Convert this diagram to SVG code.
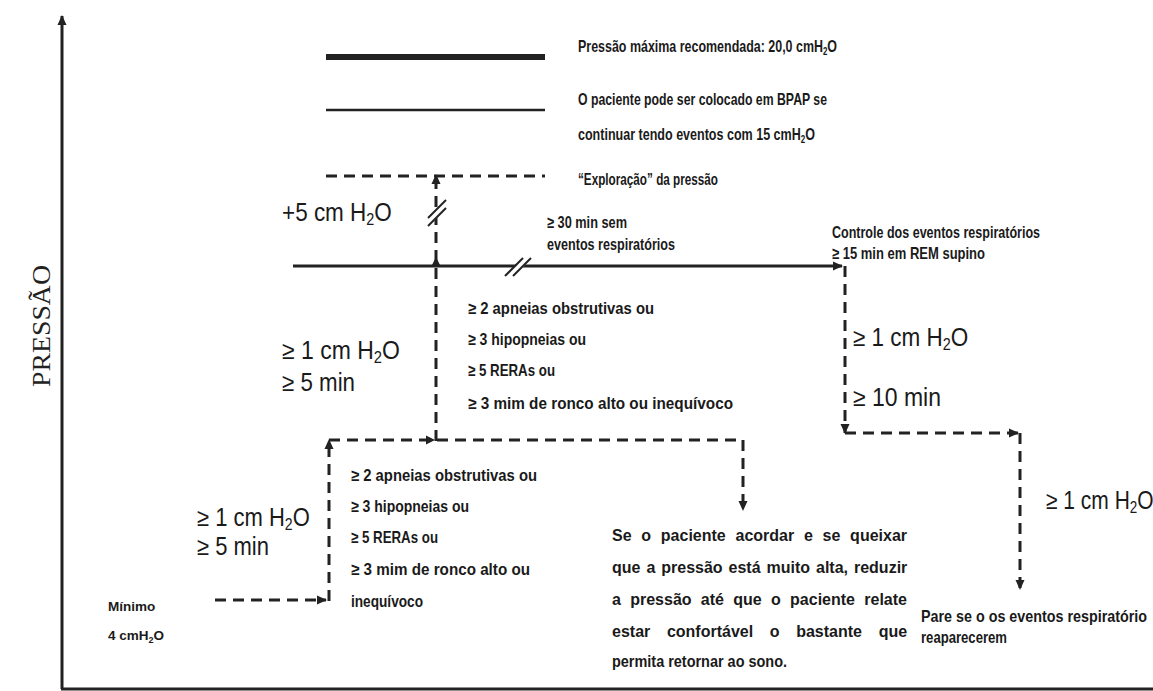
<svg xmlns="http://www.w3.org/2000/svg" width="1153" height="691" viewBox="0 0 1153 691">
<style>
.b{font-family:"Liberation Sans",Arial,sans-serif;font-weight:bold;font-size:16.5px;fill:#1a1a1a}
.p{font-family:"Liberation Sans",Arial,sans-serif;font-weight:bold;font-size:16px;fill:#1a1a1a}
.s{font-family:"Liberation Sans",Arial,sans-serif;font-weight:bold;font-size:13.5px;fill:#1a1a1a}
.r{font-family:"Liberation Sans",Arial,sans-serif;font-size:25px;fill:#1a1a1a}
.ax{font-family:"Liberation Serif","Times New Roman",serif;font-size:26px;fill:#222}
.ln{stroke:#222;fill:none}
.d{stroke:#222;fill:none;stroke-width:3;stroke-dasharray:11 7}
.br{stroke:#222;stroke-width:2;fill:none}
</style>
<defs>
<marker id="ah" viewBox="0 0 10 10" refX="9" refY="5" markerWidth="10" markerHeight="10" markerUnits="userSpaceOnUse" orient="auto">
<path d="M0,0.5 L10,5 L0,9.5 z" fill="#222"/>
</marker>
</defs>
<rect width="1153" height="691" fill="#fff"/>

<g id="axes">
<line class="ln" x1="62" y1="689" x2="62" y2="16" stroke-width="3" marker-end="url(#ah)"/>
<line class="ln" x1="61" y1="689" x2="1153" y2="689" stroke-width="3"/>
<text class="ax" transform="translate(50,326) rotate(-90)" text-anchor="middle" textLength="122" lengthAdjust="spacingAndGlyphs">PRESSÃO</text>
</g>

<g id="legend">
<line class="ln" x1="326" y1="57" x2="545" y2="57" stroke-width="6"/>
<line class="ln" x1="326" y1="110" x2="545" y2="110" stroke-width="2.5"/>
<line class="d" x1="326" y1="176" x2="545" y2="176"/>
<text class="b" transform="translate(578,52) scale(0.755,1)">Pressão máxima recomendada: 20,0 cmH<tspan font-size="10.5" dy="3">2</tspan><tspan dy="-3">O</tspan></text>
<text class="b" x="578" y="105" textLength="249" lengthAdjust="spacingAndGlyphs">O paciente pode ser colocado em BPAP se</text>
<text class="b" transform="translate(578,140) scale(0.76,1)">continuar tendo eventos com 15 cmH<tspan font-size="10.5" dy="3">2</tspan><tspan dy="-3">O</tspan></text>
<text class="b" x="578" y="185" textLength="140" lengthAdjust="spacingAndGlyphs">“Exploração” da pressão</text>
</g>

<g id="connectors">
<line class="d" x1="215" y1="600" x2="326" y2="600" marker-end="url(#ah)"/>
<line class="d" x1="329" y1="601" x2="329" y2="440" marker-end="url(#ah)"/>
<line class="d" x1="329" y1="440" x2="743" y2="440"/>
<path d="M426,435.5 L435,440 L426,444.5 z" fill="#222"/>
<line class="d" x1="743" y1="440" x2="743" y2="510" marker-end="url(#ah)"/>
<line class="d" x1="436" y1="441" x2="436" y2="175" marker-end="url(#ah)"/>
<path d="M431.5,266 L436,257 L440.5,266 z" fill="#222"/>
<line x1="428" y1="222" x2="446" y2="204" stroke="#fff" stroke-width="7"/>
<line class="br" x1="428" y1="226" x2="446" y2="208"/>
<line class="br" x1="428" y1="218" x2="446" y2="200"/>
<line class="ln" x1="293" y1="266" x2="842" y2="266" stroke-width="3" marker-end="url(#ah)"/>
<line x1="510" y1="276" x2="528" y2="258" stroke="#fff" stroke-width="6"/>
<line class="br" x1="505" y1="276" x2="523" y2="258"/>
<line class="br" x1="513" y1="276" x2="531" y2="258"/>
<line class="d" x1="845" y1="266" x2="845" y2="433" marker-end="url(#ah)"/>
<line class="d" x1="845" y1="433" x2="1018" y2="433" marker-end="url(#ah)"/>
<line class="d" x1="1020" y1="433" x2="1020" y2="589" marker-end="url(#ah)"/>
</g>

<g id="step-labels">
<text class="r" transform="translate(282,221) scale(0.9,1)">+5 cm H<tspan font-size="16" dy="4">2</tspan><tspan dy="-4">O</tspan></text>
<text class="r" transform="translate(282,359) scale(0.92,1)">≥ 1 cm H<tspan font-size="16" dy="4">2</tspan><tspan dy="-4">O</tspan></text>
<text class="r" x="282" y="391" textLength="73" lengthAdjust="spacingAndGlyphs">≥ 5 min</text>
<text class="r" transform="translate(197,526) scale(0.88,1)">≥ 1 cm H<tspan font-size="16" dy="4">2</tspan><tspan dy="-4">O</tspan></text>
<text class="r" x="197" y="555" textLength="72" lengthAdjust="spacingAndGlyphs">≥ 5 min</text>
<text class="r" transform="translate(853,346) scale(0.9,1)">≥ 1 cm H<tspan font-size="16" dy="4">2</tspan><tspan dy="-4">O</tspan></text>
<text class="r" x="853" y="406" textLength="88" lengthAdjust="spacingAndGlyphs">≥ 10 min</text>
<text class="r" transform="translate(1046,509) scale(0.84,1)">≥ 1 cm H<tspan font-size="16" dy="4">2</tspan><tspan dy="-4">O</tspan></text>
</g>

<g id="no-events">
<text class="b" x="547" y="228" textLength="80" lengthAdjust="spacingAndGlyphs">≥ 30 min sem</text>
<text class="b" x="547" y="250" textLength="128" lengthAdjust="spacingAndGlyphs">eventos respiratórios</text>
</g>

<g id="control">
<text class="b" x="832" y="238" textLength="208" lengthAdjust="spacingAndGlyphs">Controle dos eventos respiratórios</text>
<text class="b" x="832" y="259" textLength="153" lengthAdjust="spacingAndGlyphs">≥  15 min em REM supino</text>
</g>

<g id="criteria-upper">
<text class="b" x="468" y="314" textLength="186" lengthAdjust="spacingAndGlyphs">≥ 2 apneias obstrutivas ou</text>
<text class="b" x="468" y="345" textLength="118" lengthAdjust="spacingAndGlyphs">≥ 3 hipopneias ou</text>
<text class="b" x="468" y="376" textLength="87" lengthAdjust="spacingAndGlyphs">≥ 5 RERAs ou</text>
<text class="b" x="468" y="409" textLength="265" lengthAdjust="spacingAndGlyphs">≥ 3 mim de ronco alto ou inequívoco</text>
</g>

<g id="criteria-lower">
<text class="b" x="351" y="481" textLength="186" lengthAdjust="spacingAndGlyphs">≥ 2 apneias obstrutivas ou</text>
<text class="b" x="351" y="512" textLength="118" lengthAdjust="spacingAndGlyphs">≥ 3 hipopneias ou</text>
<text class="b" x="351" y="543" textLength="87" lengthAdjust="spacingAndGlyphs">≥ 5 RERAs ou</text>
<text class="b" x="351" y="575" textLength="179" lengthAdjust="spacingAndGlyphs">≥ 3 mim de ronco alto ou</text>
<text class="b" x="351" y="607" textLength="72" lengthAdjust="spacingAndGlyphs">inequívoco</text>
</g>

<g id="minimum">
<text class="s" x="108" y="611">Mínimo</text>
<text class="s" x="108" y="640">4 cmH<tspan font-size="9" dy="3">2</tspan><tspan dy="-3">O</tspan></text>
</g>

<g id="reduce-note">
<text class="p" x="612" y="541" word-spacing="5.3">Se o paciente acordar e se queixar</text>
<text class="p" x="612" y="573" word-spacing="1.5">que a pressão está muito alta, reduzir</text>
<text class="p" x="612" y="605" word-spacing="4.85">a pressão até que o paciente relate</text>
<text class="p" x="612" y="637" word-spacing="12.2">estar confortável o bastante que</text>
<text class="p" x="612" y="667" textLength="175" lengthAdjust="spacingAndGlyphs">permita retornar ao sono.</text>
</g>

<g id="stop-note">
<text class="b" x="921" y="622" font-size="14.5" textLength="226" lengthAdjust="spacingAndGlyphs">Pare se o os eventos respiratório</text>
<text class="b" x="921" y="643" textLength="86" lengthAdjust="spacingAndGlyphs">reaparecerem</text>
</g>
</svg>
